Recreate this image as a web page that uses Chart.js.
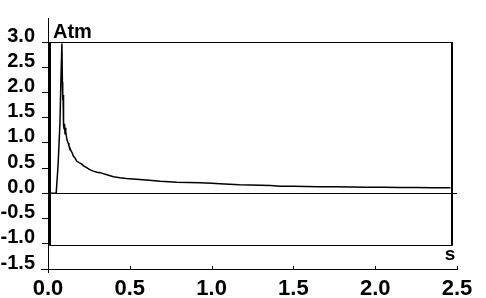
<!DOCTYPE html>
<html>
<head>
<meta charset="utf-8">
<script src="https://cdn.jsdelivr.net/npm/chart.js@4/dist/chart.umd.min.js"></script>
<style>
  html, body { margin: 0; padding: 0; background: #ffffff; }
  canvas { display: block; }
</style>
</head>
<body>
<canvas id="c" width="486" height="298"></canvas>
<script>
// ---- data ----
const timeS = [0, 0.05, 0.054, 0.062, 0.073, 0.079, 0.085, 0.088, 0.090, 0.092, 0.094, 0.096, 0.098, 0.101, 0.104, 0.107, 0.110, 0.114, 0.118, 0.123, 0.128, 0.134, 0.141, 0.148, 0.155, 0.165, 0.175, 0.19, 0.206, 0.22, 0.236, 0.255, 0.277, 0.30, 0.318, 0.36, 0.40, 0.44, 0.48, 0.52, 0.56, 0.62, 0.685, 0.74, 0.787, 0.86, 0.93, 1.0, 1.05, 1.11, 1.17, 1.23, 1.30, 1.36, 1.42, 1.50, 1.58, 1.65, 1.75, 1.85, 1.95, 2.05, 2.15, 2.25, 2.35, 2.46];
const pressureAtm = [0, 0, 0.0, 0.58, 1.39, 2.25, 2.97, 2.2, 1.85, 1.95, 1.5, 1.35, 1.28, 1.38, 1.18, 1.3, 1.22, 1.1, 1.04, 1.0, 0.94, 0.9, 0.84, 0.8, 0.74, 0.7, 0.64, 0.61, 0.58, 0.54, 0.51, 0.47, 0.44, 0.42, 0.41, 0.37, 0.33, 0.31, 0.295, 0.285, 0.275, 0.26, 0.24, 0.23, 0.22, 0.215, 0.21, 0.2, 0.19, 0.18, 0.17, 0.165, 0.16, 0.155, 0.14, 0.14, 0.135, 0.13, 0.13, 0.125, 0.12, 0.12, 0.115, 0.115, 0.11, 0.11];
const xTickValues = [0, 0.5, 1.0, 1.5, 2.0, 2.5];
const yTickValues = [-1.5, -1.0, -0.5, 0.0, 0.5, 1.0, 1.5, 2.0, 2.5, 3.0];
const yUnit = 'Atm';
const xUnit = 's';
// plot frame (in data units)
const frameTime = [0.012, 2.47];
const framePressure = [-1.02, 3.0];

const points = timeS.map((t, i) => ({ x: t, y: pressureAtm[i] }));
const FONT = '"Liberation Sans", Arial, sans-serif';

const decor = {
  id: 'decor',
  afterDraw(chart) {
    const { ctx, chartArea: a, scales: { x, y } } = chart;
    ctx.save();
    ctx.strokeStyle = '#000';
    ctx.fillStyle = '#000';
    ctx.lineWidth = 1;
    const line = (x1, y1, x2, y2) => { ctx.beginPath(); ctx.moveTo(x1, y1); ctx.lineTo(x2, y2); ctx.stroke(); };
    // y axis line
    line(a.left + 0.5, a.top - 24, a.left + 0.5, a.bottom + 4);
    // x axis line
    line(a.left - 7, a.bottom + 0.5, a.right + 1, a.bottom + 0.5);
    // x tick marks (pointing up)
    xTickValues.forEach(v => {
      const px = Math.round(x.getPixelForValue(v)) + 0.5;
      line(px, a.bottom, px, a.bottom - 3);
    });
    // frame
    const fl = x.getPixelForValue(frameTime[0]);
    const fr = x.getPixelForValue(frameTime[1]);
    const ft = y.getPixelForValue(framePressure[1]);
    const fb = y.getPixelForValue(framePressure[0]);
    line(fl, Math.round(ft) + 0.5, fr, Math.round(ft) + 0.5);
    line(fl, Math.round(fb) + 0.5, fr, Math.round(fb) + 0.5);
    ctx.lineWidth = 2;
    line(Math.round(fl), ft, Math.round(fl), fb + 1);
    line(Math.round(fr), ft, Math.round(fr), fb + 1);
    // unit labels
    ctx.font = 'bold 20px ' + FONT;
    ctx.textBaseline = 'alphabetic';
    ctx.textAlign = 'left';
    ctx.fillText(yUnit, a.left + 5, a.top - 4);
    ctx.font = 'bold 19px ' + FONT;
    ctx.textAlign = 'center';
    ctx.fillText(xUnit, fr - 2, fb + 15);
    ctx.restore();
  }
};

new Chart(document.getElementById('c'), {
  type: 'line',
  data: {
    datasets: [{
      data: points,
      borderColor: '#000',
      borderWidth: 1.5,
      pointRadius: 0,
      tension: 0,
      fill: false
    }]
  },
  options: {
    responsive: false,
    animation: false,
    layout: { padding: { top: 42, right: 29, left: 0, bottom: 0 } },
    plugins: { legend: { display: false }, tooltip: { enabled: false } },
    scales: {
      x: {
        type: 'linear',
        min: 0, max: 2.5,
        afterBuildTicks: s => { s.ticks = xTickValues.map(v => ({ value: v })); },
        afterFit: s => { s.height = 29; },
        border: { display: false },
        grid: { display: false, drawTicks: false },
        ticks: {
          color: '#000',
          padding: 7,
          maxRotation: 0,
          autoSkip: false,
          font: { family: FONT, size: 22, weight: 'bold' },
          callback: v => Number(v).toFixed(1)
        }
      },
      y: {
        type: 'linear',
        min: -1.5, max: 3.0,
        afterBuildTicks: s => { s.ticks = yTickValues.map(v => ({ value: v })); },
        afterFit: s => { s.width = 48; },
        border: { display: false },
        grid: {
          color: c => (c.tick && c.tick.value === 0) ? '#000' : 'rgba(0,0,0,0)',
          tickColor: '#000',
          tickLength: 6,
          lineWidth: 1
        },
        ticks: {
          color: '#000',
          padding: 7,
          labelOffset: -6,
          autoSkip: false,
          font: { family: FONT, size: 20, weight: 'bold' },
          callback: v => Number(v).toFixed(1)
        }
      }
    }
  },
  plugins: [decor]
});
</script>
</body>
</html>
